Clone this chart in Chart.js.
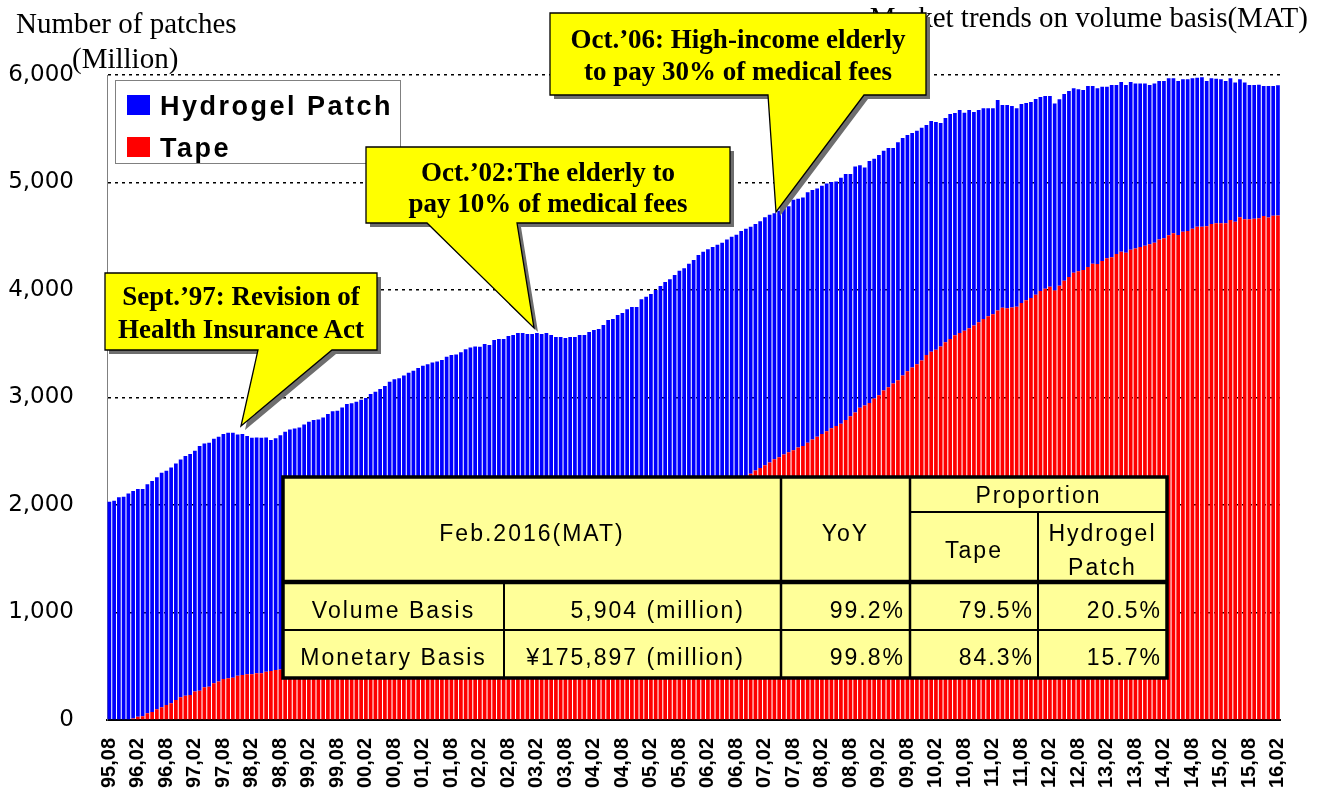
<!DOCTYPE html>
<html>
<head>
<meta charset="utf-8">
<script src="https://cdn.jsdelivr.net/npm/chart.js@4.4.1/dist/chart.umd.min.js"></script>
<style>
  html, body { margin: 0; padding: 0; background: #fff; }
  #wrap { position: relative; width: 1320px; height: 796px; overflow: hidden; }
  #chart, #overlay { position: absolute; left: 0; top: 0; }
  #overlay { pointer-events: none; }
  .serif { font-family: 'Liberation Serif', 'Times New Roman', serif; }
  .gothic { font-family: 'Liberation Sans', Arial, sans-serif; }
</style>
</head>
<body>
<div id="wrap">
  <canvas id="chart" width="1320" height="796"></canvas>
  <svg id="overlay" width="1320" height="796" xmlns="http://www.w3.org/2000/svg"></svg>
</div>
<script>
'use strict';

// ── Data: monthly MAT volume, million patches ──
const START_YEAR  = 1995;
const START_MONTH = 8;
const TICK_EVERY  = 6;

// total height of each bar (Tape + Hydrogel Patch)
const TOTAL = [
  2031,2040,2071,2077,2108,2130,2149,2149,2192,2223,
  2257,2300,2319,2350,2387,2424,2456,2474,2505,2549,
  2573,2579,2617,2635,2660,2672,2672,2656,2660,2642,
  2626,2629,2626,2629,2605,2620,2650,2681,2703,2712,
  2722,2749,2774,2790,2796,2815,2846,2871,2877,2908,
  2939,2946,
  2960,2980,2995,3033,3054,3079,3107,3147,3170,
  3180,3205,3230,3250,3275,3295,3310,3325,3335,3350,3380,3395,3400,3420,3450,3465,3475,
  3473,3498,3489,3535,3544,3544,3572,3581,3600,3600,
  3591,3591,3600,3591,3600,3581,3563,3563,3553,3563,
  3563,3581,3581,3609,3628,3637,3674,3721,3730,3767,
  3786,3820,3842,3842,3913,3938,3963,4000,4037,
  4075,4099,4140,4180,4202,4245,4280,4326,4355,4380,
  4400,4420,4440,4470,4495,4515,4550,4570,4589,4615,
  4640,4676,4700,4715,4738,4760,4780,4840,4850,4860,
  4910,4930,4945,
  4970,4990,5005,5010,5045,5080,5080,5150,5160,5140,
  5200,5220,5255,5295,5320,5320,5375,
  5414,5442,5460,5482,5510,5535,5572,5563,5553,5600,
  5637,5647,5674,5650,5674,5656,5674,5690,5690,5690,
  5767,5721,5721,5712,5690,5730,5740,5749,5777,5795,
  5805,5805,5735,5774,5823,5851,5876,5867,5860,5898,
  5898,5876,5891,5891,5907,5907,5935,5907,5935,5922,
  5922,5922,5907,5922,5944,5944,5970,5970,5944,5960,
  5960,5970,5975,5980,5944,5970,5965,5960,5944,5970,
  5930,5960,5930,5907,5907,5910,5898,5898,5898,5904
];

// red part; 98-07 values sit behind the summary table and are estimates
const TAPE = [
  0,0,0,0,8,15,31,36,62,74,
  99,118,140,155,186,211,226,233,264,273,
  304,310,341,357,381,388,394,412,419,425,
  425,434,434,450,456,465,
  470,481,491,504,514,527,536,549,563,577,592,606,
  620,633,648,661,677,689,706,718,734,747,763,776,
  790,806,820,837,850,867,881,898,912,929,943,960,
  975,991,1005,1023,1037,1056,1070,1089,1103,1122,1136,1154,
  1170,1188,1203,1222,1237,1257,1272,1291,1307,1327,1343,1363,
  1380,1400,1417,1438,1455,1476,1493,1514,1531,1553,1570,1591,
  1610,1631,1650,1672,1691,1714,1733,1756,1775,1798,1817,1840,
  1860,1885,1907,1934,1957,1985,2009,2037,2061,2090,2115,2144,
  2170,2215,
  2270,2290,2320,2345,2370,2395,2425,2445,2470,2490,
  2510,2535,2550,2580,2610,2635,2660,2685,2715,2735,
  2755,2790,2825,2860,2905,2925,2950,2990,3020,3065,
  3095,3130,3160,3205,3245,3280,3310,3345,3395,3425,
  3445,3475,3515,3545,3580,3600,3620,3645,3670,3700,
  3730,3755,3775,3810,3835,3830,3838,3845,3880,3905,
  3925,3955,3990,4012,4030,3995,4040,4085,4120,4160,
  4175,4185,4215,4245,4242,4270,4295,4304,4335,4355,
  4347,4375,4385,4400,4412,4425,4440,4470,4481,4510,
  4527,4512,4543,4549,4570,4589,4589,4592,4614,4620,
  4620,4622,4651,4636,4676,4658,4658,4662,4667,4688,
  4675,4691,4694
];

const Y_TICKS = [0, 1000, 2000, 3000, 4000, 5000, 6000];

const SERIES_NAMES  = ['Hydrogel Patch', 'Tape'];
const SERIES_COLORS = ['#0000ff', '#ff0000'];

const TITLE_Y     = ['Number of patches', '(Million)'];
const TITLE_RIGHT = 'Market trends on volume basis(MAT)';

const CALLOUT_TEXT = [
  ['Sept.\u201997: Revision of', 'Health Insurance Act'],
  ['Oct.\u201902:The elderly to', 'pay 10% of medical fees'],
  ['Oct.\u201906: High-income elderly', 'to pay 30% of medical fees'],
];

const TABLE_HEAD      = ['Feb.2016(MAT)', 'YoY', 'Proportion', 'Tape', 'Hydrogel', 'Patch'];
const TABLE_ROW_NAMES = ['Volume Basis', 'Monetary Basis'];
const TABLE_AMOUNT    = ['5,904 (million)', '\u00a5175,897 (million)'];
const TABLE_YOY       = ['99.2%', '99.8%'];
const TABLE_TAPE      = ['79.5%', '84.3%'];
const TABLE_HYDROGEL  = ['20.5%', '15.7%'];

// ── Derived ────────────────────────────────────────────────────
const MONTHS = TOTAL.map((_, i) => {
  const m  = START_MONTH - 1 + i;
  const yy = (START_YEAR + Math.floor(m / 12)) % 100;
  const mm = (m % 12) + 1;
  return String(yy).padStart(2, '0') + ',' + String(mm).padStart(2, '0');
});
const HYDROGEL = TOTAL.map((t, i) => t - TAPE[i]);

// ── Chart ──────────────────────────────────────────────────────
const SANS = "'Liberation Sans', Arial, sans-serif";

new Chart(document.getElementById('chart'), {
  type: 'bar',
  data: {
    labels: MONTHS,
    datasets: [
      { label: SERIES_NAMES[1], data: TAPE,     backgroundColor: SERIES_COLORS[1] },
      { label: SERIES_NAMES[0], data: HYDROGEL, backgroundColor: SERIES_COLORS[0] },
    ],
  },
  options: {
    responsive: false,
    animation: false,
    devicePixelRatio: 1,
    layout: { padding: { top: 75, right: 29, left: 0, bottom: 0 } },
    datasets: { bar: { barPercentage: 0.78, categoryPercentage: 1, borderWidth: 0 } },
    plugins: { legend: { display: false }, tooltip: { enabled: false } },
    scales: {
      x: {
        stacked: true,
        grid:   { display: false, drawTicks: false },
        border: { display: true, color: '#000', width: 2 },
        ticks: {
          autoSkip: false, maxRotation: 90, minRotation: 90, padding: 18,
          color: '#000',
          font: { family: SANS, size: 20, weight: 'bold' },
          callback: (v, i) => (i % TICK_EVERY === 0 ? MONTHS[i] : ''),
        },
        afterFit: s => { s.height = 76; },
      },
      y: {
        stacked: true,
        min: 0,
        max: 6000,
        afterBuildTicks: s => { s.ticks = Y_TICKS.map(v => ({ value: v })); },
        grid: {
          color: c => (c.tick && c.tick.value === 0 ? 'rgba(0,0,0,0)' : '#000'),
          lineWidth: 1.5,
          drawTicks: false,
        },
        border: { display: true, color: '#808080', width: 1, dash: [3, 4] },
        ticks: {
          padding: 33,
          color: '#000',
          font: { family: "'DejaVu Sans', sans-serif", size: 23 },
          callback: v => v.toLocaleString('en-US'),
        },
        afterFit: s => { s.width = 107; },
      },
    },
  },
});

// ── Overlay: titles, legend, summary table, callouts ───────────
const svg = document.getElementById('overlay');
const NS  = 'http://www.w3.org/2000/svg';

function add(tag, attrs, text) {
  const e = document.createElementNS(NS, tag);
  for (const k in attrs) e.setAttribute(k, attrs[k]);
  if (text !== undefined) e.textContent = text;
  svg.appendChild(e);
  return e;
}

// titles
add('text', { x: 16,   y: 33, class: 'serif', 'font-size': 29 }, TITLE_Y[0]);
add('text', { x: 72,   y: 68, class: 'serif', 'font-size': 29 }, TITLE_Y[1]);
add('text', { x: 1308, y: 27, class: 'serif', 'font-size': 29, 'text-anchor': 'end' }, TITLE_RIGHT);

// legend
add('rect', { x: 115.5, y: 80.5, width: 285, height: 83, fill: '#fff', stroke: '#808080', 'stroke-width': 1 });
add('rect', { x: 127, y: 95,  width: 23, height: 20, fill: SERIES_COLORS[0] });
add('rect', { x: 127, y: 137, width: 23, height: 20, fill: SERIES_COLORS[1] });
add('text', { x: 160, y: 115, class: 'gothic', 'font-size': 27, 'font-weight': 'bold', 'letter-spacing': 2.5 }, SERIES_NAMES[0]);
add('text', { x: 160, y: 157, class: 'gothic', 'font-size': 27, 'font-weight': 'bold', 'letter-spacing': 2.5 }, SERIES_NAMES[1]);

// summary table
const TX = [283, 504, 781, 910, 1038, 1167];
const TY = [477, 512, 582, 630, 678];
add('rect', { x: TX[0], y: TY[0], width: TX[5] - TX[0], height: TY[4] - TY[0], fill: '#ffff99' });
function hline(x1, x2, y, w) { add('line', { x1, x2, y1: y, y2: y, stroke: '#000', 'stroke-width': w }); }
function vline(x, y1, y2, w) { add('line', { x1: x, x2: x, y1, y2, stroke: '#000', 'stroke-width': w }); }
hline(TX[3], TX[5], TY[1], 2);
hline(TX[0], TX[5], TY[2], 4.5);
hline(TX[0], TX[5], TY[3], 2);
vline(TX[1], TY[2], TY[4], 2);
vline(TX[2], TY[0], TY[4], 2.5);
vline(TX[3], TY[0], TY[4], 2.5);
vline(TX[4], TY[1], TY[4], 2);
add('rect', { x: TX[0], y: TY[0], width: TX[5] - TX[0], height: TY[4] - TY[0], fill: 'none', stroke: '#000', 'stroke-width': 3.5 });

const cellText = (x, y, s, anchor) =>
  add('text', { x, y, class: 'gothic', 'font-size': 23, 'letter-spacing': 2, 'text-anchor': anchor || 'middle' }, s);
cellText((TX[0] + TX[2]) / 2, 541, TABLE_HEAD[0]);
cellText((TX[2] + TX[3]) / 2, 541, TABLE_HEAD[1]);
cellText((TX[3] + TX[5]) / 2, 503, TABLE_HEAD[2]);
cellText((TX[3] + TX[4]) / 2, 558, TABLE_HEAD[3]);
cellText((TX[4] + TX[5]) / 2, 541, TABLE_HEAD[4]);
cellText((TX[4] + TX[5]) / 2, 575, TABLE_HEAD[5]);
[618, 665].forEach((y, r) => {
  cellText((TX[0] + TX[1]) / 2, y, TABLE_ROW_NAMES[r]);
  cellText(TX[2] - 36, y, TABLE_AMOUNT[r],   'end');
  cellText(TX[3] - 5,  y, TABLE_YOY[r],      'end');
  cellText(TX[4] - 4,  y, TABLE_TAPE[r],     'end');
  cellText(TX[5] - 5,  y, TABLE_HYDROGEL[r], 'end');
});

// callouts (box + pointer, with drop shadow)
const CALLOUT_GEOM = [
  { x: 105, y: 273, w: 272, h: 77, base: [258, 332], tip: [241, 426], lines: [305, 338] },
  { x: 366, y: 147, w: 364, h: 76, base: [427, 517], tip: [534, 328], lines: [181, 212] },
  { x: 550, y: 13,  w: 376, h: 82, base: [768, 864], tip: [776, 212], lines: [48, 80] },
];
CALLOUT_GEOM.forEach((g, i) => {
  const b = g.y + g.h;
  const d = `M${g.x},${g.y} H${g.x + g.w} V${b} H${g.base[1]} L${g.tip[0]},${g.tip[1]} L${g.base[0]},${b} H${g.x} Z`;
  add('path', { d, fill: '#6e6e6e', transform: 'translate(4,4)' });
  add('path', { d, fill: '#ffff00', stroke: '#000', 'stroke-width': 1.3 });
  CALLOUT_TEXT[i].forEach((s, j) =>
    add('text', { x: g.x + g.w / 2, y: g.lines[j], class: 'serif', 'font-size': 27, 'font-weight': 'bold', 'text-anchor': 'middle' }, s));
});
</script>
</body>
</html>
